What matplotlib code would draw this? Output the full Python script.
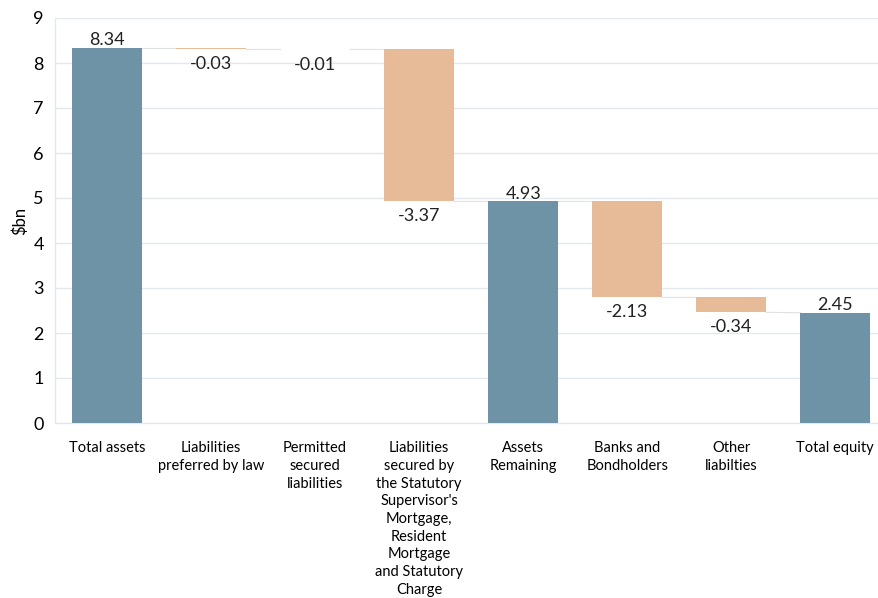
import matplotlib
matplotlib.use("Agg")
import matplotlib.pyplot as plt

categories = [
    "Total assets",
    "Liabilities\npreferred by law",
    "Permitted\nsecured\nliabilities",
    "Liabilities\nsecured by\nthe Statutory\nSupervisor's\nMortgage,\nResident\nMortgage\nand Statutory\nCharge",
    "Assets\nRemaining",
    "Banks and\nBondholders",
    "Other\nliabilties",
    "Total equity",
]
values = [8.34, -0.03, -0.01, -3.37, 4.93, -2.13, -0.34, 2.45]
is_total = [True, False, False, False, True, False, False, True]

total_color = "#6E93A7"
change_color = "#E8BB98"
grid_color = "#E3E8EE"
connector_color = "#DDE1E5"

plt.rcParams["font.family"] = ["Lato", "DejaVu Sans"]

fig = plt.figure(figsize=(8.79, 5.98), dpi=100)
ax = fig.add_axes([55 / 879, 1 - 423 / 598, 1 - 55 / 879, (423 - 18) / 598])

bar_w = 0.67
bottoms, heights, ends = [], [], []
level = 0.0
for v, tot in zip(values, is_total):
    if tot:
        bottoms.append(0.0)
        heights.append(v)
        level = v
    else:
        level = level + v
        bottoms.append(level)
        heights.append(-v)
    ends.append(level)

x = list(range(len(categories)))
colors = [total_color if t else change_color for t in is_total]
ax.bar(x, heights, bottom=bottoms, width=bar_w, color=colors, zorder=3)

# connectors between consecutive bars
for i in range(len(values) - 1):
    start_next = bottoms[i + 1] + heights[i + 1]
    ax.plot([i + bar_w / 2, i + 1 - bar_w / 2], [ends[i], start_next],
            color=connector_color, lw=0.8, zorder=2)

# value labels
for i, (v, tot) in enumerate(zip(values, is_total)):
    if tot:
        ax.text(i, v - 0.015, f"{v:.2f}", ha="center", va="bottom",
                fontsize=13, color="#222222", zorder=4)
    else:
        ax.text(i, bottoms[i] - 0.16, f"{v:.2f}", ha="center", va="top",
                fontsize=13, color="#222222", zorder=4)

ax.set_xlim(-0.5, 7.42)
ax.set_ylim(0, 9)
ax.set_yticks(range(0, 10))
ax.set_xticks(x)
ax.set_xticklabels(categories, fontsize=10.5, linespacing=1.34, va="top")
ax.tick_params(axis="both", length=0)
ax.tick_params(axis="x", pad=13)
ax.tick_params(axis="y", labelsize=13, pad=8)
ax.grid(axis="y", color=grid_color, lw=1, zorder=0)
ax.set_axisbelow(True)
for side in ["top", "right"]:
    ax.spines[side].set_visible(False)
for side in ["left", "bottom"]:
    ax.spines[side].set_color(grid_color)
    ax.spines[side].set_linewidth(1)
ax.set_ylabel("$bn", fontsize=12, labelpad=4)

fig.savefig("out.png", dpi=100)
